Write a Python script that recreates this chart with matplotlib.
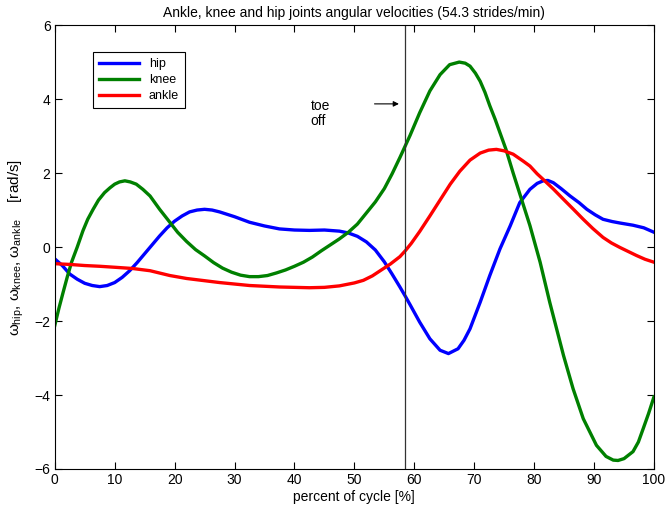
import matplotlib
matplotlib.use("Agg")
import matplotlib.pyplot as plt

plt.rcParams["font.family"] = ["Liberation Sans", "DejaVu Sans"]
plt.rcParams["mathtext.fontset"] = "custom"
plt.rcParams["mathtext.rm"] = "Liberation Sans"
plt.rcParams["mathtext.it"] = "Liberation Sans"

# percent of gait cycle and angular velocities [rad/s]
hip_x = [0, 1.25, 2.5, 3.75, 5, 6.25, 7.5, 8.75, 10, 11.25, 12.5, 13.75, 15,
         16.25, 17.5, 18.75, 20, 21.25, 22.5, 23.75, 25, 26.25, 27.5, 30, 32.5,
         35, 37.5, 40, 42.5, 45, 47.5, 49, 50.5, 52, 53.5, 55, 56.25, 57.6,
         58.5, 59.3, 60.9, 62.6, 64.3, 65.7, 67.3, 68.3, 69.3, 71.0, 72.6,
         74.3, 76.0, 77.6, 79.3, 80.5, 81.5, 82.3, 83.2, 84.5, 86.0, 87.5,
         88.8, 90.2, 91.5, 93, 94.3, 96.5, 98.3, 100]
hip_y = [-0.32, -0.5, -0.73, -0.87, -0.98, -1.04, -1.07, -1.04, -0.96, -0.82,
         -0.64, -0.42, -0.18, 0.06, 0.3, 0.52, 0.7, 0.84, 0.95, 1.0, 1.02, 1.0,
         0.95, 0.82, 0.67, 0.57, 0.49, 0.46, 0.45, 0.46, 0.43, 0.38, 0.29, 0.14,
         -0.08, -0.4, -0.72, -1.08, -1.33, -1.56, -2.03, -2.48, -2.79, -2.88,
         -2.75, -2.52, -2.21, -1.49, -0.77, -0.05, 0.57, 1.2, 1.56, 1.72, 1.79,
         1.8, 1.74, 1.58, 1.38, 1.2, 1.02, 0.87, 0.75, 0.69, 0.65, 0.59, 0.52,
         0.4]

knee_x = [0, 0.7, 1.4, 2.1, 2.8, 3.75, 4.7, 5.5, 6.4, 7.3, 8.3, 9.2, 10, 10.8,
          11.7, 12.6, 13.6, 14.7, 15.9, 17.5, 19.2, 20.5, 22, 23.5, 25, 26.5,
          28, 29.5, 31, 32.5, 34, 35.5, 37, 38.5, 40, 41.5, 43, 44.5, 46, 47.5,
          49, 50.5, 52, 53.5, 55, 56.3, 57.6, 59.3, 60.9, 62.6, 64.3, 65.9,
          67.5, 68.5, 69.3, 70.2, 71.0, 71.8, 72.6, 73.5, 74.3, 75.3, 76.5,
          77.9, 79.3, 81.0, 82.6, 84.9, 86.5, 88.2, 90.4, 92, 93.2, 94, 95,
          96.5, 97.4, 98.2, 99.1, 100]
knee_y = [-2.12, -1.65, -1.22, -0.8, -0.41, 0.0, 0.44, 0.75, 1.02, 1.27, 1.47,
          1.6, 1.7, 1.76, 1.79, 1.76, 1.7, 1.56, 1.38, 1.02, 0.67, 0.4, 0.15,
          -0.07, -0.24, -0.42, -0.57, -0.68, -0.76, -0.8, -0.8, -0.77, -0.7,
          -0.62, -0.52, -0.41, -0.27, -0.1, 0.06, 0.22, 0.4, 0.62, 0.92, 1.22,
          1.58, 1.98, 2.42, 3.02, 3.63, 4.22, 4.66, 4.93, 5.0, 4.97, 4.89, 4.7,
          4.48, 4.18, 3.82, 3.45, 3.09, 2.64, 2.0, 1.29, 0.58, -0.41, -1.49,
          -2.93, -3.83, -4.64, -5.36, -5.66, -5.76, -5.77, -5.72, -5.53, -5.27,
          -4.91, -4.5, -4.05]

ankle_x = [0, 2.5, 5, 7.5, 10.3, 13, 15.9, 19.2, 22, 25, 27.5, 30, 32.5, 35,
           37.5, 40, 42.5, 45, 47.5, 50, 51.5, 53, 54.5, 56, 57.6, 58.5, 59.5,
           60.9, 62.6, 64.3, 66, 67.6, 69.3, 71, 72.4, 73.7, 75, 76.5, 78.2,
           79.3, 80.5, 81.5, 83.2, 84.9, 86.5, 88.2, 89.8, 91.5, 92.9, 94.3,
           95.7, 97.1, 98.5, 100]
ankle_y = [-0.45, -0.47, -0.5, -0.52, -0.55, -0.58, -0.64, -0.77, -0.85, -0.91,
           -0.96, -1.0, -1.04, -1.06, -1.08, -1.09, -1.1, -1.09, -1.05, -0.97,
           -0.9, -0.78, -0.62, -0.46, -0.26, -0.1, 0.1, 0.42, 0.84, 1.27, 1.7,
           2.05, 2.35, 2.54, 2.62, 2.64, 2.6, 2.51, 2.32, 2.19, 1.98, 1.83, 1.57,
           1.29, 1.03, 0.75, 0.5, 0.26, 0.11, -0.01, -0.12, -0.23, -0.33, -0.41]

toe_off = 58.5

fig = plt.figure(figsize=(6.68, 5.12), dpi=100)
ax = fig.add_axes([0.082, 0.084, 0.897, 0.867])

ax.plot(hip_x, hip_y, color="#0000ff", lw=2.4, label="hip")
ax.plot(knee_x, knee_y, color="#008000", lw=2.4, label="knee")
ax.plot(ankle_x, ankle_y, color="#ff0000", lw=2.4, label="ankle")
ax.axvline(toe_off, color="#333333", lw=0.9)

ax.annotate("", xy=(57.9, 3.87), xytext=(52.9, 3.87),
            arrowprops=dict(arrowstyle="-|>", color="black", lw=0.8,
                            mutation_scale=8))
ax.text(42.7, 3.62, "toe\noff", ha="left", va="center", fontsize=10,
        linespacing=1.1)

ax.set_xlim(0, 100)
ax.set_ylim(-6, 6)
ax.set_xticks(range(0, 101, 10))
ax.set_yticks(range(-6, 7, 2))
ax.tick_params(direction="in", top=True, right=True, length=5, labelsize=10,
               width=0.8, pad=3)
for s in ax.spines.values():
    s.set_linewidth(0.8)

ax.set_title("Ankle, knee and hip joints angular velocities (54.3 strides/min)",
             fontsize=10, pad=6)
ax.set_xlabel("percent of cycle [%]", fontsize=10, labelpad=2)
ax.set_ylabel(r"$\omega_{\rm hip}$, $\omega_{\rm knee}$, $\omega_{\rm ankle}$    [rad/s]",
              fontsize=11, labelpad=6)

leg = ax.legend(loc="upper left", bbox_to_anchor=(0.063, 0.939),
                borderaxespad=0, fancybox=False, edgecolor="black",
                fontsize=9, handlelength=3.2, borderpad=0.5, labelspacing=0.3,
                framealpha=1)
leg.get_frame().set_linewidth(0.8)

fig.savefig("out.png", dpi=100)
